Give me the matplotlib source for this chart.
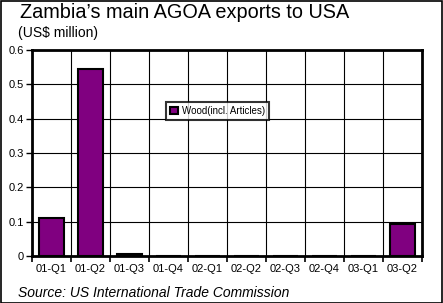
import matplotlib.pyplot as plt
import numpy as np

categories = ['01-Q1', '01-Q2', '01-Q3', '01-Q4', '02-Q1',
              '02-Q2', '02-Q3', '02-Q4', '03-Q1', '03-Q2']
wood = [0.11, 0.544, 0.007, 0, 0, 0, 0, 0, 0, 0.093]
y_ticks = [0, 0.1, 0.2, 0.3, 0.4, 0.5, 0.6]

plt.rcParams['font.family'] = ['Liberation Sans', 'DejaVu Sans']

fig = plt.figure(figsize=(4.43, 3.03), dpi=100)
W, H = 443, 303
ax = fig.add_axes([32 / W, 1 - 256 / H, (422 - 32) / W, (256 - 50) / H])

x = np.arange(len(categories))
ax.bar(x, wood, width=0.62, color='#800080', edgecolor='black',
       linewidth=1.5, zorder=3, label='Wood(incl. Articles)')

ax.set_xlim(-0.5, len(categories) - 0.5)
ax.set_ylim(0, 0.6)
ax.set_yticks(y_ticks)
ax.set_yticklabels(['0', '0.1', '0.2', '0.3', '0.4', '0.5', '0.6'], fontsize=8)
ax.set_xticks(x)
ax.set_xticklabels(categories, fontsize=8)
ax.set_xticks(np.arange(len(categories) + 1) - 0.5, minor=True)
ax.tick_params(axis='x', which='major', length=0, pad=6)
ax.tick_params(axis='x', which='minor', length=4, width=1.2, direction='out')
ax.tick_params(axis='y', length=4, width=1, direction='out', pad=2)

# black gridlines, horizontal and at category boundaries
ax.grid(axis='y', color='black', linewidth=0.8, zorder=0)
ax.grid(axis='x', which='minor', color='black', linewidth=0.8, zorder=0)
for side in ['top', 'left', 'bottom', 'right']:
    ax.spines[side].set_linewidth(2)

leg = ax.legend(loc='upper left', bbox_to_anchor=((166 - 32) / 390, (256 - 102) / 206),
                fontsize=7, frameon=True, fancybox=False, edgecolor='black',
                handlelength=0.8, handleheight=0.8, borderpad=0.4,
                handletextpad=0.4, borderaxespad=0)
leg.get_frame().set_linewidth(1.5)
leg.set_zorder(5)

fig.text(20 / W, 1 - 13 / H, "Zambia\u2019s main AGOA exports to USA",
         fontsize=14.3, va='center', ha='left')
fig.text(18 / W, 1 - 33 / H, "(US$ million)", fontsize=10, va='center', ha='left')
fig.text(18 / W, 1 - 293 / H, "Source: US International Trade Commission",
         fontsize=10, style='italic', va='center', ha='left')

border = plt.Rectangle((0.5 / W, 0.5 / H), 1 - 1.5 / W, 1 - 1.5 / H,
                       transform=fig.transFigure, fill=False,
                       edgecolor='black', linewidth=1.2)
fig.patches.append(border)

fig.savefig('out.png', dpi=100)
